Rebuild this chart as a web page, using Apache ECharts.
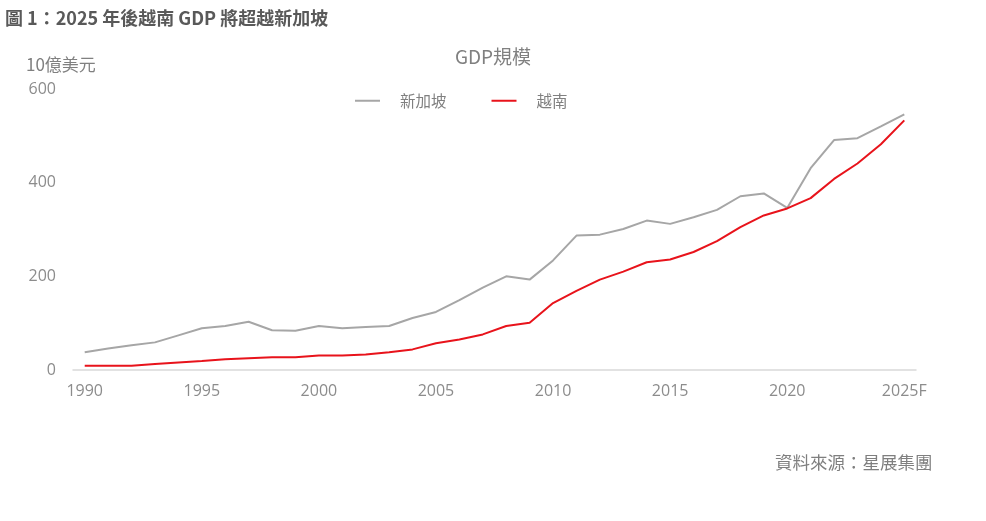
<!DOCTYPE html>
<html>
<head>
<meta charset="utf-8">
<script src="https://cdn.jsdelivr.net/npm/echarts@6/dist/echarts.min.js"></script>
<style>
  html, body { margin: 0; padding: 0; background: #fff; }
  #chart { width: 986px; height: 521px; }
</style>
</head>
<body>
<div id="chart"></div>
<script>
// 年份（類別軸）
const years = [
  '1990', '1991', '1992', '1993', '1994', '1995', '1996', '1997', '1998', '1999',
  '2000', '2001', '2002', '2003', '2004', '2005', '2006', '2007', '2008', '2009',
  '2010', '2011', '2012', '2013', '2014', '2015', '2016', '2017', '2018', '2019',
  '2020', '2021', '2022', '2023', '2024', '2025F'
];
// 新加坡 GDP（10億美元）
const singapore = [
  38, 46, 53, 59, 74, 89, 94, 103, 85, 84,
  94, 89, 92, 94, 111, 124, 149, 176, 200, 193,
  234, 287, 289, 301, 319, 312, 326, 342, 371, 377,
  346, 431, 491, 495, 520, 546
];
// 越南 GDP（10億美元）
const vietnam = [
  9, 9, 9, 13, 16, 19, 23, 25, 27, 27,
  31, 31, 33, 38, 44, 57, 65, 76, 94, 101,
  143, 169, 193, 210, 230, 236, 252, 275, 305, 330,
  345, 367, 408, 441, 482, 533
];
const yTicks = [0, 200, 400, 600];

const chart = echarts.init(document.getElementById('chart'));
const fontCJK = '"Noto Sans CJK TC", "Noto Sans", sans-serif';
const fontNum = '"Open Sans", "Noto Sans CJK TC", sans-serif';

const option = {
  animation: false,
  backgroundColor: '#fff',
  title: [
    {
      text: '圖 1：2025 年後越南 GDP 將超越新加坡',
      left: 5, top: 9, padding: 0,
      textStyle: { fontFamily: fontCJK, fontSize: 18, fontWeight: 'bold', color: '#595959' }
    },
    {
      text: 'GDP規模',
      left: 'center', top: 47, padding: 0,
      textStyle: { fontFamily: fontCJK, fontSize: 19, fontWeight: 'normal', color: '#808080' }
    },
    {
      text: '10億美元',
      left: 26, top: 56, padding: 0,
      textStyle: { fontFamily: fontCJK, fontSize: 17, fontWeight: 'normal', color: '#808080' }
    },
    {
      text: '資料來源：星展集團',
      left: 775, top: 454, padding: 0,
      textStyle: { fontFamily: fontCJK, fontSize: 17.5, fontWeight: 'normal', color: '#7f7f7f' }
    }
  ],
  legend: {
    data: ['新加坡', '越南'],
    left: 350, top: 88,
    itemWidth: 25, itemHeight: 2, itemGap: 45,
    icon: 'rect',
    textStyle: { fontFamily: fontCJK, fontSize: 15.5, color: '#808080', padding: [0, 0, 0, 15] }
  },
  grid: { left: 73, right: 70, top: 89, bottom: 151, containLabel: false },
  xAxis: {
    type: 'category',
    data: years,
    boundaryGap: true,
    axisLine: { lineStyle: { color: '#d9d9d9', width: 1.5 } },
    axisTick: { interval: 4, length: 5, lineStyle: { color: '#d0d0d0', width: 1.5 } },
    axisLabel: {
      interval: 4, color: '#8c8c8c', fontFamily: fontNum, fontSize: 16, margin: 13
    },
    splitLine: { show: false }
  },
  yAxis: {
    type: 'value',
    min: yTicks[0], max: yTicks[yTicks.length - 1], interval: 200,
    axisLine: { show: false },
    axisTick: { show: false },
    splitLine: { show: false },
    axisLabel: { color: '#8c8c8c', fontFamily: fontNum, fontSize: 16, margin: 17 }
  },
  series: [
    {
      name: '新加坡',
      type: 'line',
      data: singapore,
      symbol: 'none',
      lineStyle: { color: '#a6a6a6', width: 2 },
      itemStyle: { color: '#a6a6a6' }
    },
    {
      name: '越南',
      type: 'line',
      data: vietnam,
      symbol: 'none',
      lineStyle: { color: '#e8131b', width: 2 },
      itemStyle: { color: '#e8131b' }
    }
  ]
};
chart.setOption(option);
</script>
</body>
</html>
